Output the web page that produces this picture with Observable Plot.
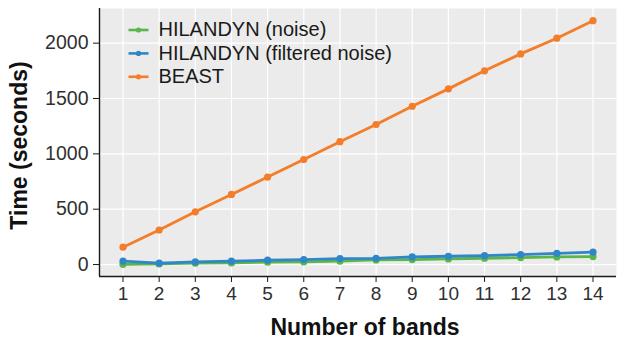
<!DOCTYPE html>
<html>
<head>
<meta charset="utf-8">
<script src="https://cdn.jsdelivr.net/npm/d3@7"></script>
<script src="https://cdn.jsdelivr.net/npm/@observablehq/plot@0.6"></script>
<style>
  html, body { margin: 0; padding: 0; background: #ffffff; }
  svg { display: block; }
</style>
</head>
<body>
<div id="chart"></div>
<script>
// Run time (seconds) against number of spectral bands
const bands = [1, 2, 3, 4, 5, 6, 7, 8, 9, 10, 11, 12, 13, 14];
const seriesNames = ["HILANDYN (noise)", "HILANDYN (filtered noise)", "BEAST"];
const seriesColors = ["#5ab54b", "#2f86c8", "#f47d2a"];
const noiseTimes = [2, 6, 12, 15, 21, 24, 30, 42, 45, 51, 57, 63, 69, 72];
const filteredTimes = [30, 12, 24, 30, 39, 45, 54, 56, 69, 75, 81, 90, 100, 112];
const beastTimes = [157, 312, 476, 633, 790, 948, 1110, 1265, 1430, 1587, 1750, 1903, 2045, 2203];
const yTicks = [0, 500, 1000, 1500, 2000];

const seriesValues = [noiseTimes, filteredTimes, beastTimes];
const series = seriesNames.map((name, s) => ({
  name,
  color: seriesColors[s],
  rows: bands.map((b, i) => ({band: b, time: seriesValues[s][i]}))
}));

// ggplot-style 5% expansion of both continuous scales
const allTimes = seriesValues.flat();
const tMin = d3.min(allTimes), tMax = d3.max(allTimes);
const tPad = 0.05 * (tMax - tMin);
const yDomain = [tMin - tPad, tMax + tPad];
const bPad = 0.05 * (d3.max(bands) - d3.min(bands));
const xDomain = [d3.min(bands) - bPad, d3.max(bands) + bPad];

// legend key: a short horizontal stroke
const lineKey = {
  draw(context) {
    context.moveTo(-10, 0);
    context.lineTo(10, 0);
  }
};

const font = "'Liberation Sans', Arial, Helvetica, sans-serif";

const marks = [
  Plot.frame({fill: "#ebebeb", stroke: "none"}),
  Plot.gridX(bands, {stroke: "#ffffff", strokeOpacity: 1, strokeWidth: 1.2}),
  Plot.gridY(yTicks, {stroke: "#ffffff", strokeOpacity: 1, strokeWidth: 1.2}),
  Plot.ruleX([xDomain[0]], {stroke: "#1a1a1a", strokeWidth: 1.4}),
  Plot.ruleY([yDomain[0]], {stroke: "#1a1a1a", strokeWidth: 1.4}),
  Plot.axisX(bands, {tickSize: 6, tickPadding: 4, fontSize: 19, stroke: "#1a1a1a", fill: "#303030", label: null, tickFormat: d3.format("d")}),
  Plot.axisY(yTicks, {tickSize: 6, tickPadding: 5, fontSize: 19.5, stroke: "#1a1a1a", fill: "#303030", label: null, tickFormat: d3.format("d")})
];

for (const s of series) {
  marks.push(Plot.line(s.rows, {x: "band", y: "time", stroke: s.color, strokeWidth: 2.8}));
  marks.push(Plot.dot(s.rows, {x: "band", y: "time", fill: s.color, r: 3.6}));
}

// legend inside the panel, top-left
series.forEach((s, i) => {
  const dy = 21.5 + i * 23.4;
  marks.push(Plot.dot([s.name], {frameAnchor: "top-left", dx: 39, dy, symbol: lineKey, stroke: s.color, strokeWidth: 2.6, fill: "none"}));
  marks.push(Plot.dot([s.name], {frameAnchor: "top-left", dx: 39, dy, fill: s.color, r: 2.6}));
  marks.push(Plot.text([s.name], {frameAnchor: "top-left", dx: 59, dy, textAnchor: "start", lineAnchor: "middle", fontSize: 20, fill: "#1a1a1a"}));
});

// axis titles
marks.push(Plot.text(["Number of bands"], {frameAnchor: "bottom", dx: 7, dy: 51, textAnchor: "middle", lineAnchor: "middle", fontSize: 23, fontWeight: "bold", fill: "#111111"}));
marks.push(Plot.text(["Time (seconds)"], {frameAnchor: "left", dx: -80, dy: 3, rotate: -90, textAnchor: "middle", lineAnchor: "middle", fontSize: 23, fontWeight: "bold", fill: "#111111"}));

const chart = Plot.plot({
  width: 628,
  height: 343,
  marginLeft: 99,
  marginRight: 12,
  marginTop: 8,
  marginBottom: 67,
  style: {fontFamily: font, background: "#ffffff", overflow: "visible"},
  x: {domain: xDomain},
  y: {domain: yDomain},
  marks
});

document.getElementById("chart").appendChild(chart);
</script>
</body>
</html>
